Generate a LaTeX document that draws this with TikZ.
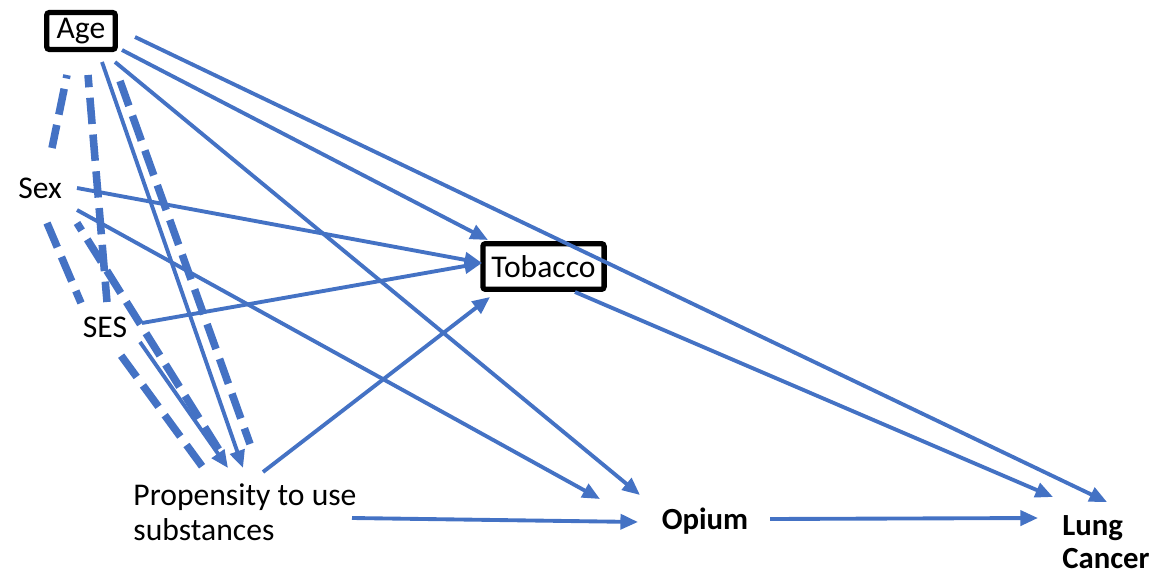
\documentclass[tikz,border=0pt]{standalone}
\usepackage{fontspec}
\setmainfont{Carlito}
\usetikzlibrary{arrows.meta}
\definecolor{dagblue}{HTML}{4472C4}
\begin{document}
\begin{tikzpicture}[
    x=0.02cm, y=-0.02cm,
    >={Triangle[length=10pt,width=8.5pt]},
    every node/.style={font=\fontsize{18}{20}\selectfont, inner sep=2pt},
    boxed/.style={draw, line width=3pt, rounded corners=1.5pt},
    arr/.style={->, draw=dagblue, line width=2.2pt},
    assoc/.style={draw=dagblue, line width=4.3pt, dash pattern=on 15pt off 6pt}
]
\useasboundingbox (0,0) rectangle (1173,574);

\node (age)     [boxed, minimum width=39pt, minimum height=21pt] at (81,31)  {Age};
\node (sex)                                  at (40,188)   {Sex};
\node (ses)                                  at (105,327)  {SES};
\node (tobacco) [boxed, minimum width=69pt, minimum height=26pt] at (543.5,266.5) {Tobacco};
\node (prop)    [align=left]                 at (245,512)  {Propensity to use\\substances};
\node (opium)   [font=\fontsize{17.5}{20}\selectfont\bfseries] at (705,521) {Opium};
\node (lung)    [align=left, font=\fontsize{17.5}{19}\selectfont\bfseries] at (1106,542) {Lung\\Cancer};

% Edges
\draw[arr] ([shift={(54,6)}]age.center)   -- ([shift={(1,-40)}]lung.center);
\draw[arr] ([shift={(41,19)}]age.center)  -- ([shift={(-55.5,-26.5)}]tobacco.center);
\draw[arr] ([shift={(34,31)}]age.center)  -- ([shift={(-65,-26)}]opium.center);
\draw[arr] ([shift={(21,31)}]age.center)  -- ([shift={(-2,-44)}]prop.center);

\draw[arr] ([shift={(37,0)}]sex.center)   -- ([shift={(-61.5,-3.5)}]tobacco.center);
\draw[arr] ([shift={(37,22)}]sex.center)  -- ([shift={(-105,-22)}]opium.center);

\draw[arr] ([shift={(37,-4)}]ses.center)  -- ([shift={(-61.5,-3.5)}]tobacco.center);
\draw[arr] ([shift={(35,15)}]ses.center)  -- ([shift={(-17,-44)}]prop.center);

\draw[arr] ([shift={(18,-40)}]prop.center) -- ([shift={(-53.5,30.5)}]tobacco.center);
\draw[arr] ([shift={(107,6)}]prop.center)  -- ([shift={(-67,1)}]opium.center);

\draw[arr] ([shift={(65,-2)}]opium.center)     -- ([shift={(-68,-24)}]lung.center);
\draw[arr] ([shift={(31.5,25.5)}]tobacco.center) -- ([shift={(-53,-45)}]lung.center);

% thick dashed links
\draw[assoc, dash phase=13pt] ([shift={(-14,44)}]age.center) -- ([shift={(12,-40)}]sex.center);
\draw[assoc, dash phase=8pt]  ([shift={(7,44)}]age.center)   -- ([shift={(2,-25)}]ses.center);
\draw[assoc]                  ([shift={(39,50)}]age.center)  -- ([shift={(5,-68)}]prop.center);
\draw[assoc]                  ([shift={(7,35)}]sex.center)   -- ([shift={(-24,-24)}]ses.center);
\draw[assoc, dash phase=10pt] ([shift={(37,35)}]sex.center)  -- ([shift={(-21,-54)}]prop.center);
\draw[assoc, dash phase=17pt] ([shift={(12,23)}]ses.center)  -- ([shift={(-38,-39)}]prop.center);

\end{tikzpicture}
\end{document}
